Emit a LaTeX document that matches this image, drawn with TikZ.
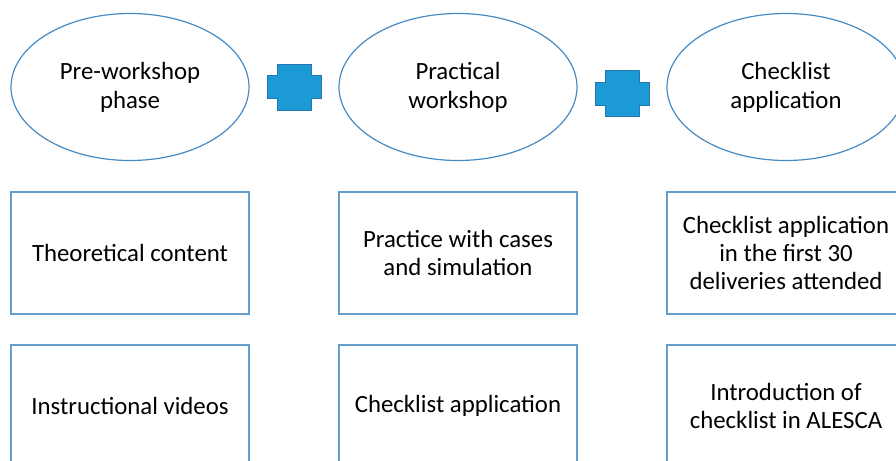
\documentclass[tikz,border=0pt]{standalone}
\usepackage{fontspec}
\setmainfont{Carlito}
\usetikzlibrary{shapes.geometric}
\definecolor{lineblue}{RGB}{70,138,196}
\definecolor{boxblue}{RGB}{100,158,205}
\definecolor{plusblue}{RGB}{28,154,214}
\definecolor{plusedge}{RGB}{38,118,176}
\begin{document}
\begin{tikzpicture}[x=0.5pt,y=-0.5pt,
  phase/.style={ellipse,draw=lineblue,line width=0.6pt,inner sep=0pt,
    minimum width=119pt,minimum height=73.5pt,align=center,
    font=\fontsize{12.4}{14.5}\selectfont},
  item/.style={rectangle,draw=boxblue,line width=0.6pt,inner sep=0pt,
    minimum width=119pt,minimum height=61pt,align=center,
    font=\fontsize{12.4}{14.2}\selectfont}]
\useasboundingbox (0,0) rectangle (896,461);
\clip (0,0) rectangle (896,461);
% phases
\node[phase] (pre) at (130,87) {Pre-workshop\\phase};
\node[phase] (work) at (458,87) {Practical\\workshop};
\node[phase] (check) at (786,87) {Checklist\\application};
% first row
\node[item] (theory) at (130,253) {Theoretical content};
\node[item] (cases) at (458,253) {Practice with cases\\and simulation};
\node[item] (first) at (786,253) {Checklist application\\in the first 30\\deliveries attended};
% second row
\node[item] (videos) at (130,406) {Instructional videos};
\node[item] (apply) at (458,406) {Checklist application};
\node[item] (alesca) at (786,406) {Introduction of\\checklist in ALESCA};
% plus signs
\foreach \cx/\cy in {294/87,622/93.5}
  \filldraw[fill=plusblue,draw=plusedge,line width=0.5pt]
    (\cx-17,\cy-23) -- (\cx+17,\cy-23) -- (\cx+17,\cy-11.5) -- (\cx+27,\cy-11.5)
    -- (\cx+27,\cy+11.5) -- (\cx+17,\cy+11.5) -- (\cx+17,\cy+23) -- (\cx-17,\cy+23)
    -- (\cx-17,\cy+11.5) -- (\cx-27,\cy+11.5) -- (\cx-27,\cy-11.5) -- (\cx-17,\cy-11.5)
    -- cycle;
\end{tikzpicture}
\end{document}
